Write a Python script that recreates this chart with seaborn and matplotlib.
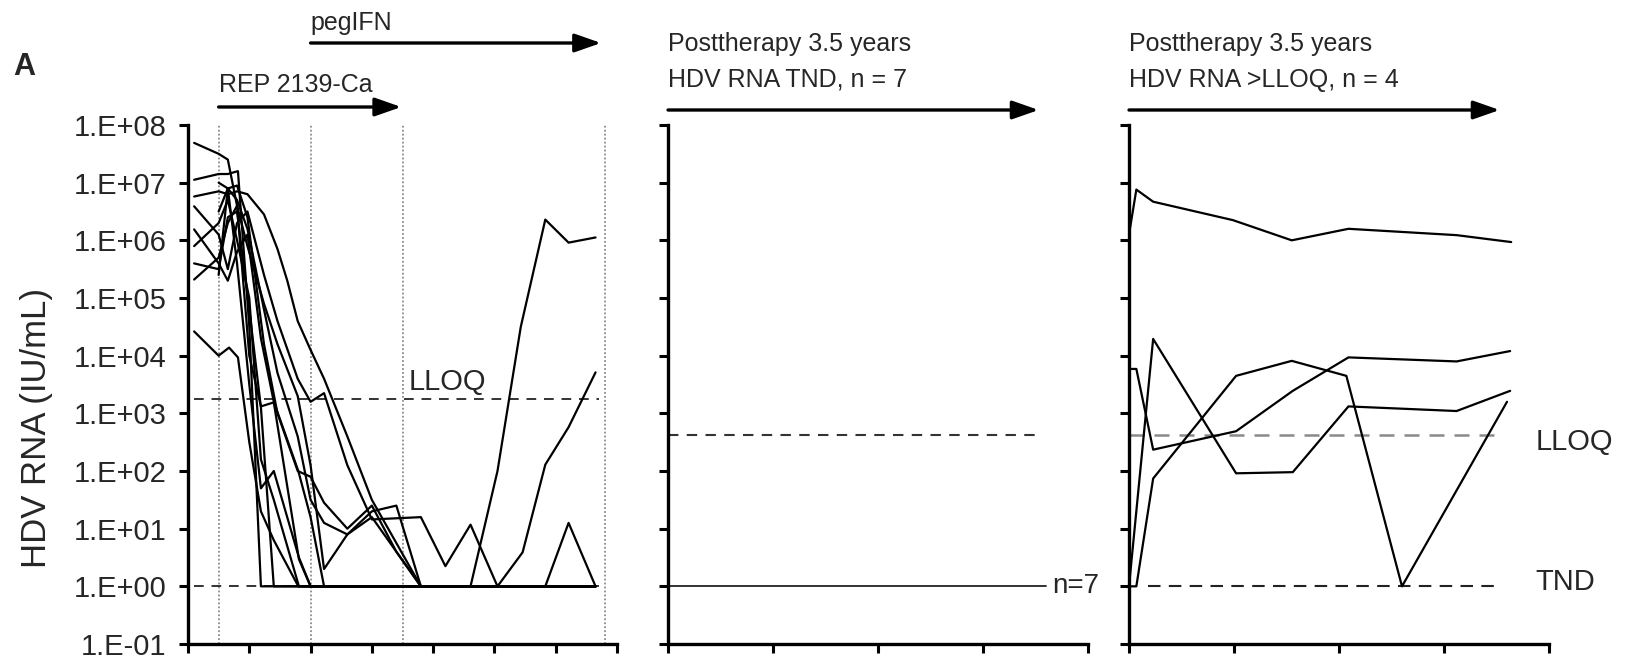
import numpy as np
import pandas as pd
import seaborn as sns
import matplotlib.pyplot as plt
from matplotlib.ticker import NullLocator
from matplotlib.transforms import blended_transform_factory

# ---- data: log10 HDV RNA (IU/mL) ----
# on-therapy panel, x = weeks from start of REP 2139-Ca
p01_wk = [-4, 0, 1.5, 3, 5, 6.9, 9, 13.1, 15, 61.5]
p01_lg = [7.69, 7.5, 7.4, 6.6, 4.0, 3.12, 3.19, 0.47, 0, 0]
p02_wk = [-4, 0, 1.5, 3.15, 5, 6.9, 61.5]
p02_lg = [7.05, 7.15, 7.15, 7.2, 4.5, 0, 0]
p03_wk = [-4, 0, 1.5, 3, 4.7, 7.4, 9.6, 11.2, 12.9, 15, 17.2, 21, 25, 33, 61.5]
p03_lg = [6.76, 6.85, 6.8, 6.85, 6.8, 6.45, 5.85, 5.3, 4.6, 4.1, 3.6, 2.6, 1.5, 0, 0]
p04_wk = [-4, 0, 1.5, 3, 4.7, 7.4, 9.6, 12.9, 15, 17.2, 21, 25, 33, 37, 41.1, 45.5, 49.6, 53.3, 57.1, 61.5]
p04_lg = [6.59, 6.1, 5.5, 6.3, 6.5, 5.4, 4.6, 3.6, 3.2, 3.35, 2.1, 1.16, 1.2, 0.35, 1.07, 0, 0.59, 2.11, 2.76, 3.71]
p05_wk = [-4, 0, 1.5, 3, 4.7, 6.9, 9, 13, 15, 17.2, 61.5]
p05_lg = [6.19, 5.6, 5.3, 5.8, 6.1, 4.3, 3.2, 2.0, 1.2, 0, 0]
p06_wk = [-4, 0, 1.5, 3, 5, 6.9, 9, 13.1, 61.5]
p06_lg = [5.9, 6.3, 6.7, 6.0, 5.0, 2.2, 1.5, 0, 0]
p07_wk = [-4, 0, 1.5, 3, 5, 6.9, 9, 61.5]
p07_lg = [5.6, 5.5, 6.4, 6.5, 4.8, 3.1, 0, 0]
p08_wk = [-4, 0, 1.5, 3, 4.7, 7.4, 9.6, 12.9, 15, 17.2, 21, 25, 29, 33, 61.5]
p08_lg = [5.32, 5.7, 6.3, 6.6, 5.9, 4.9, 4.2, 3.3, 2.1, 0.3, 0.9, 1.3, 1.4, 0, 0]
p09_wk = [-4, 0, 1.7, 3.15, 5, 6.9, 9, 13, 61.5]
p09_lg = [4.42, 4.0, 4.14, 3.97, 2.5, 1.3, 0.8, 0, 0]
p10_wk = [0, 1.5, 3, 4.7, 7.4, 9.6, 12.9, 15, 17.2, 21, 25, 29, 33, 41.1, 45.5, 49.3, 53.3, 57.1, 61.5]
p10_lg = [5.4, 6.9, 6.95, 6.4, 4.2, 3.0, 2.0, 1.9, 1.45, 1.0, 1.4, 0.6, 0, 0, 2.0, 4.5, 6.36, 5.96, 6.05]
p11_wk = [0, 1.5, 3, 4.7, 7.4, 9.6, 12.9, 15, 17.2, 21, 25, 33, 53.3, 57.1, 61.5]
p11_lg = [6.5, 6.9, 6.7, 6.2, 4.8, 3.7, 2.6, 1.5, 1.1, 0.9, 1.2, 0, 0, 1.1, 0]
p12_wk = [0, 1.5, 3, 5, 6.9, 9, 13.1, 15, 61.5]
p12_lg = [7.0, 6.9, 5.6, 3.5, 1.7, 2.0, 0.5, 0, 0]

phase_weeks = [0, 15, 30, 63]   # start REP, add pegIFN, stop REP, stop pegIFN
lloq_on = 1750
lloq_post = 420
tnd = 1

# posttherapy, HDV RNA TND (n = 7), x = years
tnd_yr = [0, 3.6]
tnd_val = [1, 1]

# posttherapy, HDV RNA > LLOQ (n = 4), x = years
pa_yr = [0, 0.07, 0.23, 0.99, 1.55, 2.09, 3.12, 3.64]
pa_lg = [6.1, 6.88, 6.67, 6.35, 6.0, 6.2, 6.09, 5.97]
pb_yr = [0, 0.07, 0.23, 1.02, 1.56, 2.09, 3.12, 3.63]
pb_lg = [3.77, 3.77, 2.37, 2.69, 3.39, 3.97, 3.9, 4.08]
pc_yr = [0, 0.23, 1.02, 1.56, 2.09, 3.12, 3.63]
pc_lg = [0, 4.29, 1.96, 1.98, 3.12, 3.04, 3.39]
pd_yr = [0, 0.07, 0.23, 1.02, 1.55, 2.07, 2.6, 3.6]
pd_lg = [0, 0, 1.87, 3.65, 3.91, 3.65, 0, 3.2]

ytick_labels = ['1.E-01', '1.E+00', '1.E+01', '1.E+02', '1.E+03',
                '1.E+04', '1.E+05', '1.E+06', '1.E+07', '1.E+08']


def long_table(series, xname):
    rows = []
    for pid, xs, lg in series:
        for x, v in zip(xs, lg):
            rows.append({'patient': pid, xname: x, 'rna': 10.0 ** v})
    return pd.DataFrame(rows)


on_df = long_table([
    ('p01', p01_wk, p01_lg), ('p02', p02_wk, p02_lg), ('p03', p03_wk, p03_lg),
    ('p04', p04_wk, p04_lg), ('p05', p05_wk, p05_lg), ('p06', p06_wk, p06_lg),
    ('p07', p07_wk, p07_lg), ('p08', p08_wk, p08_lg), ('p09', p09_wk, p09_lg),
    ('p10', p10_wk, p10_lg), ('p11', p11_wk, p11_lg), ('p12', p12_wk, p12_lg),
], 'week')
tnd_df = pd.DataFrame({'patient': 'tnd', 'year': tnd_yr, 'rna': tnd_val})
post_df = long_table([
    ('a', pa_yr, pa_lg), ('b', pb_yr, pb_lg), ('c', pc_yr, pc_lg), ('d', pd_yr, pd_lg),
], 'year')

sns.set_theme(style='ticks')
plt.rcParams['font.family'] = ['Liberation Sans', 'DejaVu Sans']

fig = plt.figure(figsize=(16.29, 6.58), dpi=100)
W, H = 1629, 658
bottom, height = (H - 644) / H, (644 - 125) / H
ax1 = fig.add_axes([188 / W, bottom, 429 / W, height])
ax2 = fig.add_axes([668 / W, bottom, 420 / W, height])
ax3 = fig.add_axes([1129 / W, bottom, 420 / W, height])


def style_axis(ax, xlim, xticks):
    ax.set_yscale('log')
    ax.set_ylim(1e-1, 1e8)
    ax.set_yticks(10.0 ** np.arange(-1, 9))
    ax.yaxis.set_minor_locator(NullLocator())
    ax.set_xlim(*xlim)
    ax.set_xticks(xticks)
    ax.set_xticklabels([])
    ax.set_xlabel('')
    ax.set_ylabel('')
    for s in ['top', 'right']:
        ax.spines[s].set_visible(False)
    for s in ['left', 'bottom']:
        ax.spines[s].set_linewidth(2.4)
        ax.spines[s].set_color('black')
    ax.tick_params(length=6.5, width=2.2, direction='out', color='black')
    ax.grid(False)


line_kw = dict(color='black', lw=1.6, estimator=None, legend=False)

# on therapy
for w in phase_weeks:
    ax1.axvline(w, color='#8c8c8c', ls=(0, (1, 1.2)), lw=1.3, zorder=1)
ax1.hlines(lloq_on, -4, 62, colors='#333333', linestyles=(0, (5, 4)), lw=1.4)
ax1.hlines(tnd, -4, 62, colors='#333333', linestyles=(0, (5, 4)), lw=1.4)
sns.lineplot(data=on_df, x='week', y='rna', units='patient', ax=ax1, **line_kw)
style_axis(ax1, (-5, 65), np.arange(-5, 66, 10))
ax1.set_yticklabels(ytick_labels, fontsize=21)
ax1.tick_params(axis='y', pad=9)
ax1.text(31, 10 ** 3.55, 'LLOQ', fontsize=21, ha='left', va='center')

# posttherapy TND
ax2.hlines(lloq_post, 0, 3.57, colors='#333333', linestyles=(0, (5, 4)), lw=1.5)
sns.lineplot(data=tnd_df, x='year', y='rna', units='patient', ax=ax2,
             color='#222222', lw=1.3, estimator=None, legend=False)
style_axis(ax2, (0, 4), np.arange(0, 5))
ax2.set_yticklabels([])
ax2.text(3.66, 1, 'n=7', fontsize=20, ha='left', va='center')

# posttherapy > LLOQ
ax3.hlines(lloq_post, 0, 3.55, colors='#8a8a8a', linestyles=(0, (6, 4)), lw=1.8)
ax3.hlines(tnd, 0.18, 3.55, colors='#222222', linestyles=(0, (6, 4)), lw=1.5)
sns.lineplot(data=post_df, x='year', y='rna', units='patient', ax=ax3, **line_kw)
style_axis(ax3, (0, 4), np.arange(0, 5))
ax3.set_yticklabels([])
ax3.text(3.87, 10 ** 2.51, 'LLOQ', fontsize=21, ha='left', va='center')
ax3.text(3.87, 10 ** 0.07, 'TND', fontsize=21, ha='left', va='center')

# treatment arrows above the panels
arrow_kw = dict(arrowstyle='-|>,head_length=0.8,head_width=0.28', color='black',
                lw=2.4, mutation_scale=20, shrinkA=0, shrinkB=0)


def phase_arrow(ax, x0, x1, y, label_lines, ty):
    tr = blended_transform_factory(ax.transData, fig.transFigure)
    ax.annotate('', xy=(x1, y), xytext=(x0, y), xycoords=tr, textcoords=tr,
                arrowprops=arrow_kw, annotation_clip=False)
    for txt, yy in zip(label_lines, ty):
        ax.text(x0, yy, txt, transform=tr, fontsize=18,
                ha='left', va='center', clip_on=False)


phase_arrow(ax1, 15, 62.4, 1 - 43 / H, ['pegIFN'], [1 - 23 / H])
phase_arrow(ax1, 0, 29.8, 1 - 107 / H, ['REP 2139-Ca'], [1 - 85 / H])
phase_arrow(ax2, 0, 3.53, 1 - 110 / H,
            ['Posttherapy 3.5 years', 'HDV RNA TND, n = 7'], [1 - 44 / H, 1 - 80 / H])
phase_arrow(ax3, 0, 3.53, 1 - 110 / H,
            ['Posttherapy 3.5 years', 'HDV RNA >LLOQ, n = 4'], [1 - 44 / H, 1 - 80 / H])

fig.text(13 / W, 1 - 67 / H, 'A', fontsize=22, fontweight='bold', ha='left', va='center')
fig.text(37 / W, 1 - 428 / H, 'HDV RNA (IU/mL)', fontsize=25, rotation=90,
         ha='center', va='center')

fig.savefig('out.png', dpi=100)
